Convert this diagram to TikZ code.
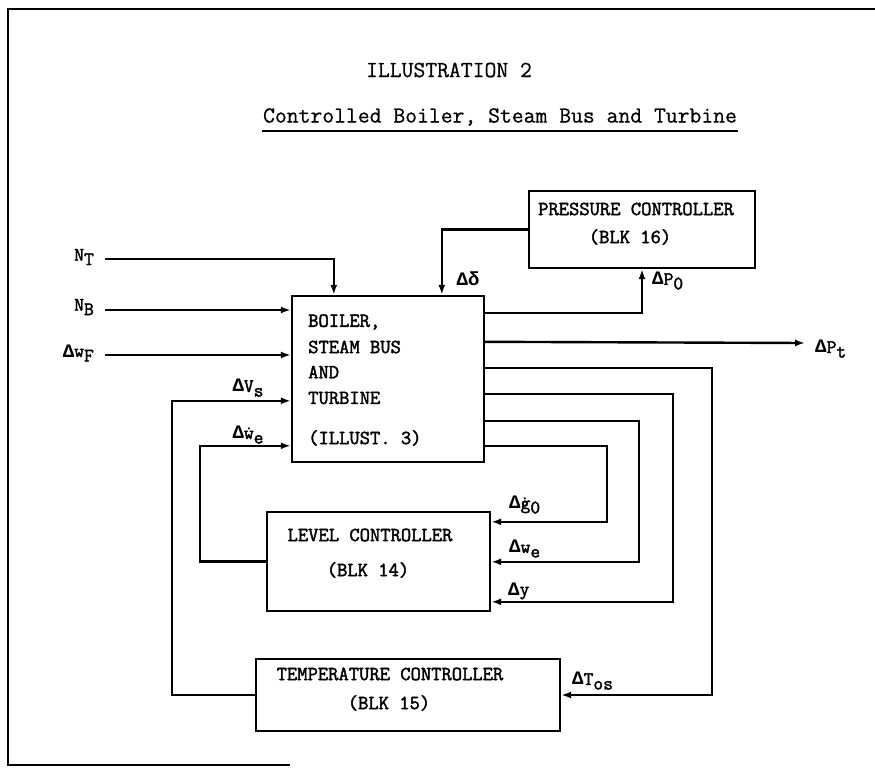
\documentclass[tikz,border=0pt]{standalone}
\usepackage{fontspec}
\newfontfamily\lib{Liberation Mono}
\newfontfamily\lmb{Latin Modern Mono}[FakeBold=2]
\newfontfamily\lmt{Latin Modern Mono}[FakeBold=0.6]
\usetikzlibrary{arrows.meta,calc}
\newcommand{\sbs}[1]{\raisebox{-0.55ex}{#1}}
\newcommand{\D}{{\lib\bfseries Δ}}
\newcommand{\dd}{{\lib\bfseries δ}}
\begin{document}
\begin{tikzpicture}[x=1pt,y=-1pt,
  line width=2.4pt,
  blk/.style={draw,line width=2.4pt,inner sep=0pt},
  ar/.style={-{Latex[length=10pt,width=7pt]}},
  boxtxt/.style={font=\lmb\fontsize{20}{24}\selectfont,inner sep=0pt},
  lbl/.style={font=\lmb\fontsize{19}{22}\selectfont,inner sep=0pt},
  ttl/.style={font=\lmt\fontsize{23}{27}\selectfont,inner sep=0pt}]
\useasboundingbox (0,0) rectangle (875,768);
% frame
\draw[line width=1.8pt] (875,9) -- (8,9) -- (8,766);
\draw[line width=1.8pt] (8,765) -- (290,765);
% titles
\node[ttl] (t1) at (449,70) {ILLUSTRATION 2};
\node[ttl] (t2) at (500,117) {Controlled Boiler, Steam Bus and Turbine};
\draw[line width=1.4pt] ([yshift=-4pt]t2.south west) -- ([yshift=-4pt]t2.south east);
% blocks
\node[blk,minimum width=192,minimum height=166] (B) at (388,379) {};
\node[blk,minimum width=226,minimum height=77] (PC) at (642,229.5) {};
\node[blk,minimum width=223,minimum height=99] (LC) at (378.5,561.5) {};
\node[blk,minimum width=304,minimum height=72] (TC) at (408,695) {};
% block texts
\node[boxtxt,anchor=west] (b1) at (307,322) {BOILER,};
\node[boxtxt,anchor=west] (b2) at (307,347) {STEAM BUS};
\node[boxtxt,anchor=west] (b3) at (307,372) {AND};
\node[boxtxt,anchor=west] (b4) at (307,398) {TURBINE};
\node[boxtxt,anchor=west] (b5) at (307,438) {(ILLUST. 3)};
\node[boxtxt] (p1) at (636,209) {PRESSURE CONTROLLER};
\node[boxtxt] (p2) at (630,237) {(BLK 16)};
\node[boxtxt] (l1) at (370,535) {LEVEL CONTROLLER};
\node[boxtxt] (l2) at (368,570) {(BLK 14)};
\node[boxtxt] (c1) at (390,674) {TEMPERATURE CONTROLLER};
\node[boxtxt] (c2) at (389,703) {(BLK 15)};
% input labels and coordinates
\coordinate (nt) at (105,259);
\coordinate (nb) at (105,310);
\coordinate (wf) at (105,355);
\node[lbl,anchor=east] (Lnt) at (95,257) {N\sbs{T}};
\node[lbl,anchor=east] (Lnb) at (95,307) {N\sbs{B}};
\node[lbl,anchor=east] (Lwf) at (95,353) {\D w\sbs{F}};
% inputs
\draw[ar] (nt) -| ([xshift=43pt]B.north west);
\draw[ar] (nb) -- (nb -| B.west);
\draw[ar] (wf) -- (wf -| B.west);
% temperature controller feedback (Delta V_s)
\draw[ar] (TC.west) -- ++(-83,0) |- ($(B.north west)+(0,106)$);
\node[lbl] (Lvs) at (248,388) {\D V\sbs{s}};
% level controller feedback (Delta w_e dot)
\draw[ar] (LC.west) -- ++(-66,0) |- ($(B.north west)+(0,151)$);
\node[lbl] (Lwed) at (248,435) {\D\.{w}\sbs{e}};
% pressure controller
\draw[ar] (PC.west) -| ([xshift=151pt]B.north west);
\node[lbl] (Ldd) at (468,279) {\D\dd};
\draw[ar] ($(B.north east)+(0,18)$) -| (PC.south);
\node[lbl,anchor=west] (Lp0) at (651,281) {\D P\sbs{0}};
% Delta P_t
\coordinate (pt) at (805,343);
\draw[ar] ($(B.north east)+(0,47)$) -- (pt);
\node[lbl,anchor=west] (Lpt) at (814,349) {\D P\sbs{t}};
% Delta T_os
\draw[ar] ($(B.north east)+(0,73)$) -- ++(227,0) |- (TC.east);
\node[lbl,anchor=west] (Ltos) at (571,681) {\D T\sbs{os}};
% Delta y
\draw[ar] ($(B.north east)+(0,99)$) -- ++(188,0) |- ($(LC.north east)+(0,91)$);
\node[lbl,anchor=west] (Ly) at (507,591) {\D y};
% Delta w_e
\draw[ar] ($(B.north east)+(0,126)$) -- ++(154,0) |- ($(LC.north east)+(0,51)$);
\node[lbl,anchor=west] (Lwe) at (508,549) {\D w\sbs{e}};
% Delta g_0 dot
\draw[ar] ($(B.north east)+(0,151)$) -- ++(122,0) |- ($(LC.north east)+(0,11)$);
\node[lbl,anchor=west] (Lg0) at (508,505) {\D\.{g}\sbs{0}};
\end{tikzpicture}
\end{document}
